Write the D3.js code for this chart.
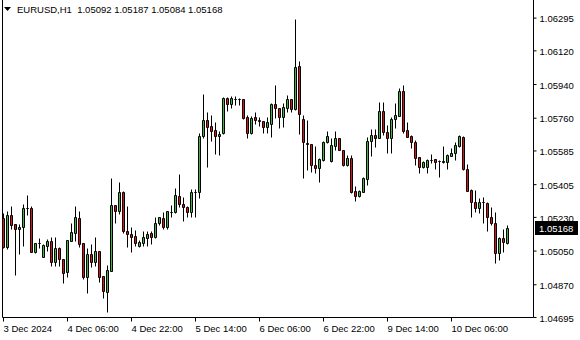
<!DOCTYPE html>
<html>
<head>
<meta charset="utf-8">
<style>
  body { margin: 0; background: #fff; }
  svg { display: block; font-family: 'Liberation Sans', Arial, sans-serif; }
  .axis text { font-size: 9.5px; fill: #000; }
  .axis .domain { display: none; }
  .axis .tick line { stroke: #000; }
  .header { font-size: 9.5px; fill: #000; white-space: pre; }
</style>
</head>
<body>
<svg width="580" height="340"></svg>
<script src="https://d3js.org/d3.v7.min.js"></script>
<script>
const symbol = "EURUSD,H1";

const opens = [
  1.05223, 1.05070, 1.05240, 1.05190, 1.05163, 1.05174, 1.05276, 1.05276, 1.05044, 1.05088,
  1.05017, 1.05076, 1.05102, 1.04991, 1.05062, 1.05003, 1.04937, 1.05102, 1.05146, 1.05223,
  1.05088, 1.04910, 1.05030, 1.04991, 1.05046, 1.04914, 1.04830, 1.04942, 1.05293, 1.05263,
  1.05365, 1.05155, 1.05137, 1.05128, 1.05076, 1.05088, 1.05119, 1.05142, 1.05121, 1.05195,
  1.05223, 1.05177, 1.05258, 1.05255, 1.05342, 1.05299, 1.05281, 1.05258, 1.05362, 1.05365,
  1.05662, 1.05748, 1.05716, 1.05694, 1.05664, 1.05676, 1.05864, 1.05832, 1.05860, 1.05860,
  1.05860, 1.05764, 1.05680, 1.05764, 1.05748, 1.05743, 1.05712, 1.05727, 1.05834, 1.05812,
  1.05765, 1.05814, 1.05860, 1.05805, 1.06036, 1.05753, 1.05627, 1.05618, 1.05507, 1.05490,
  1.05534, 1.05629, 1.05530, 1.05611, 1.05650, 1.05588, 1.05507, 1.05547, 1.05369, 1.05344,
  1.05365, 1.05433, 1.05636, 1.05667, 1.05653, 1.05796, 1.05682, 1.05650, 1.05751, 1.05771,
  1.05903, 1.05694, 1.05662, 1.05629, 1.05549, 1.05495, 1.05495, 1.05534, 1.05538, 1.05529,
  1.05529, 1.05525, 1.05558, 1.05570, 1.05611, 1.05658, 1.05484, 1.05374, 1.05308, 1.05276,
  1.05308, 1.05306, 1.05228, 1.05195, 1.05035, 1.05116, 1.05092
];
const highs = [
  1.05249, 1.05263, 1.05288, 1.05192, 1.05192, 1.05299, 1.05347, 1.05288, 1.05090, 1.05116,
  1.05083, 1.05110, 1.05121, 1.05121, 1.05067, 1.05005, 1.05108, 1.05199, 1.05288, 1.05263,
  1.05090, 1.05062, 1.05085, 1.05121, 1.05048, 1.04916, 1.04973, 1.05437, 1.05295, 1.05418,
  1.05367, 1.05288, 1.05174, 1.05160, 1.05106, 1.05156, 1.05155, 1.05156, 1.05231, 1.05230,
  1.05256, 1.05262, 1.05293, 1.05383, 1.05460, 1.05335, 1.05288, 1.05379, 1.05379, 1.05680,
  1.05887, 1.05792, 1.05774, 1.05739, 1.05690, 1.05872, 1.05869, 1.05876, 1.05876, 1.05864,
  1.05862, 1.05774, 1.05769, 1.05788, 1.05764, 1.05745, 1.05764, 1.05839, 1.05935, 1.05814,
  1.05837, 1.05881, 1.05862, 1.06287, 1.06064, 1.05774, 1.05748, 1.05620, 1.05609, 1.05544,
  1.05636, 1.05689, 1.05650, 1.05689, 1.05653, 1.05590, 1.05561, 1.05561, 1.05397, 1.05374,
  1.05445, 1.05658, 1.05700, 1.05700, 1.05846, 1.05846, 1.05721, 1.05762, 1.05837, 1.05918,
  1.05935, 1.05739, 1.05667, 1.05641, 1.05551, 1.05530, 1.05538, 1.05565, 1.05540, 1.05534,
  1.05609, 1.05566, 1.05597, 1.05632, 1.05667, 1.05662, 1.05513, 1.05379, 1.05374, 1.05333,
  1.05338, 1.05307, 1.05284, 1.05258, 1.05121, 1.05165, 1.05187
];
const lows = [
  1.05062, 1.05058, 1.05165, 1.04919, 1.05030, 1.05074, 1.05240, 1.05042, 1.05035, 1.05065,
  1.05015, 1.05049, 1.04970, 1.04968, 1.04968, 1.04879, 1.04907, 1.05100, 1.05100, 1.05070,
  1.04898, 1.04825, 1.04964, 1.04968, 1.04882, 1.04795, 1.04723, 1.04940, 1.05199, 1.05246,
  1.05146, 1.05070, 1.05044, 1.05074, 1.05070, 1.05076, 1.05074, 1.05085, 1.05119, 1.05186,
  1.05165, 1.05165, 1.05231, 1.05253, 1.05284, 1.05209, 1.05231, 1.05228, 1.05231, 1.05330,
  1.05650, 1.05498, 1.05637, 1.05567, 1.05561, 1.05673, 1.05797, 1.05811, 1.05828, 1.05828,
  1.05751, 1.05650, 1.05673, 1.05729, 1.05716, 1.05678, 1.05680, 1.05657, 1.05757, 1.05704,
  1.05709, 1.05792, 1.05792, 1.05803, 1.05671, 1.05437, 1.05481, 1.05469, 1.05463, 1.05418,
  1.05530, 1.05623, 1.05525, 1.05588, 1.05586, 1.05503, 1.05502, 1.05356, 1.05316, 1.05335,
  1.05362, 1.05400, 1.05558, 1.05605, 1.05650, 1.05667, 1.05570, 1.05574, 1.05704, 1.05769,
  1.05676, 1.05656, 1.05600, 1.05507, 1.05467, 1.05490, 1.05463, 1.05516, 1.05484, 1.05445,
  1.05516, 1.05484, 1.05553, 1.05534, 1.05602, 1.05482, 1.05368, 1.05228, 1.05255, 1.05249,
  1.05195, 1.05156, 1.05186, 1.04982, 1.05000, 1.05044, 1.05084
];
const closes = [
  1.05070, 1.05240, 1.05186, 1.05163, 1.05177, 1.05276, 1.05277, 1.05044, 1.05088, 1.05088,
  1.05079, 1.05102, 1.04991, 1.05062, 1.05003, 1.04932, 1.05106, 1.05148, 1.05228, 1.05085,
  1.04910, 1.05030, 1.04991, 1.05046, 1.04910, 1.04835, 1.04946, 1.05293, 1.05263, 1.05365,
  1.05156, 1.05137, 1.05124, 1.05092, 1.05094, 1.05121, 1.05137, 1.05121, 1.05195, 1.05228,
  1.05177, 1.05260, 1.05258, 1.05347, 1.05297, 1.05281, 1.05258, 1.05362, 1.05363, 1.05662,
  1.05748, 1.05712, 1.05690, 1.05664, 1.05673, 1.05867, 1.05832, 1.05864, 1.05860, 1.05861,
  1.05760, 1.05680, 1.05758, 1.05748, 1.05743, 1.05712, 1.05737, 1.05834, 1.05811, 1.05765,
  1.05819, 1.05860, 1.05805, 1.06032, 1.05778, 1.05629, 1.05618, 1.05507, 1.05490, 1.05540,
  1.05629, 1.05662, 1.05614, 1.05650, 1.05588, 1.05507, 1.05547, 1.05362, 1.05344, 1.05369,
  1.05437, 1.05636, 1.05667, 1.05653, 1.05796, 1.05682, 1.05650, 1.05753, 1.05774, 1.05904,
  1.05690, 1.05658, 1.05629, 1.05544, 1.05495, 1.05525, 1.05534, 1.05535, 1.05522, 1.05528,
  1.05522, 1.05561, 1.05570, 1.05614, 1.05662, 1.05484, 1.05370, 1.05308, 1.05276, 1.05308,
  1.05307, 1.05228, 1.05195, 1.05035, 1.05116, 1.05094, 1.05168
];

// bar index of each time label (16 hourly bars apart)
const timeTickBars = [0, 16, 32, 48, 64, 80, 96, 112];
const timeLabels = ["3 Dec 2024", "4 Dec 06:00", "4 Dec 22:00", "5 Dec 14:00",
                    "6 Dec 06:00", "6 Dec 22:00", "9 Dec 14:00", "10 Dec 06:00"];
const priceTicks = [1.06295, 1.06120, 1.05940, 1.05760, 1.05585, 1.05405,
                    1.05230, 1.05050, 1.04870, 1.04695];

const svg = d3.select("svg");

const left = 2, right = 533, bottom = 317;

const x = d3.scaleLinear().domain([0, 132.5]).range([3, right]);
const y = d3.scaleLinear().domain([1.04695, 1.06295]).range([bottom, 17.6]);

const bars = d3.range(opens.length).map(i => ({
  i, o: opens[i], h: highs[i], l: lows[i], c: closes[i]
}));

const px = v => Math.round(v) + 0.5;

// frame
svg.append("path")
  .attr("d", `M${left + 0.5},0 V${bottom + 0.5} H${right + 0.5} V0`)
  .attr("fill", "none")
  .attr("stroke", "#000");

// candles
const candles = svg.append("g").attr("class", "candles");

candles.selectAll("line")
  .data(bars)
  .join("line")
  .attr("x1", d => Math.round(x(d.i)) + 0.5)
  .attr("x2", d => Math.round(x(d.i)) + 0.5)
  .attr("y1", d => px(y(d.h)))
  .attr("y2", d => px(y(d.l)))
  .attr("stroke", "#000");

candles.selectAll("path")
  .data(bars)
  .join("path")
  .attr("d", d => {
    let cx = Math.round(x(d.i));
    let t = px(y(Math.max(d.o, d.c)));
    let b = px(y(Math.min(d.o, d.c)));
    return `M${cx - 0.5},${t} H${cx + 1.5} V${b} H${cx - 0.5} Z`;
  })
  .attr("fill", d => d.c >= d.o ? "#3cb83c" : "#e01010")
  .attr("stroke", "#000");

// price axis
svg.append("g")
  .attr("class", "y axis")
  .attr("transform", `translate(${right + 0.5},0)`)
  .call(d3.axisRight(y)
    .tickValues(priceTicks)
    .tickSize(3)
    .tickSizeOuter(0)
    .tickPadding(3)
    .tickFormat(d3.format(".5f")))
  .call(g => g.selectAll("text").attr("dy", "0.45em"));

// time axis
svg.append("g")
  .attr("class", "x axis")
  .attr("transform", `translate(0,${bottom + 0.5})`)
  .call(d3.axisBottom(x)
    .tickValues(timeTickBars)
    .tickSize(4)
    .tickSizeOuter(0)
    .tickPadding(4)
    .tickFormat((d, i) => timeLabels[i]))
  .call(g => g.selectAll("text").attr("text-anchor", "start").attr("dx", "0"));

// last price marker
let last = closes[closes.length - 1];
svg.append("rect")
  .attr("x", right + 2)
  .attr("y", Math.round(y(last)) - 7)
  .attr("width", 43)
  .attr("height", 14)
  .attr("fill", "#000");

svg.append("text")
  .attr("class", "axis")
  .attr("x", right + 6)
  .attr("y", Math.round(y(last)) + 4)
  .style("font-size", "9.5px")
  .attr("fill", "#fff")
  .text(d3.format(".5f")(last));

// header
svg.append("path")
  .attr("d", "M4,7 L11,7 L7.5,11 Z")
  .attr("fill", "#000");

let n = opens.length - 1;
let f = d3.format(".5f");
svg.append("text")
  .attr("class", "header")
  .attr("x", 17)
  .attr("y", 13)
  .text(`${symbol}  ${f(opens[n])} ${f(highs[n])} ${f(lows[n])} ${f(closes[n])}`);
</script>
</body>
</html>
